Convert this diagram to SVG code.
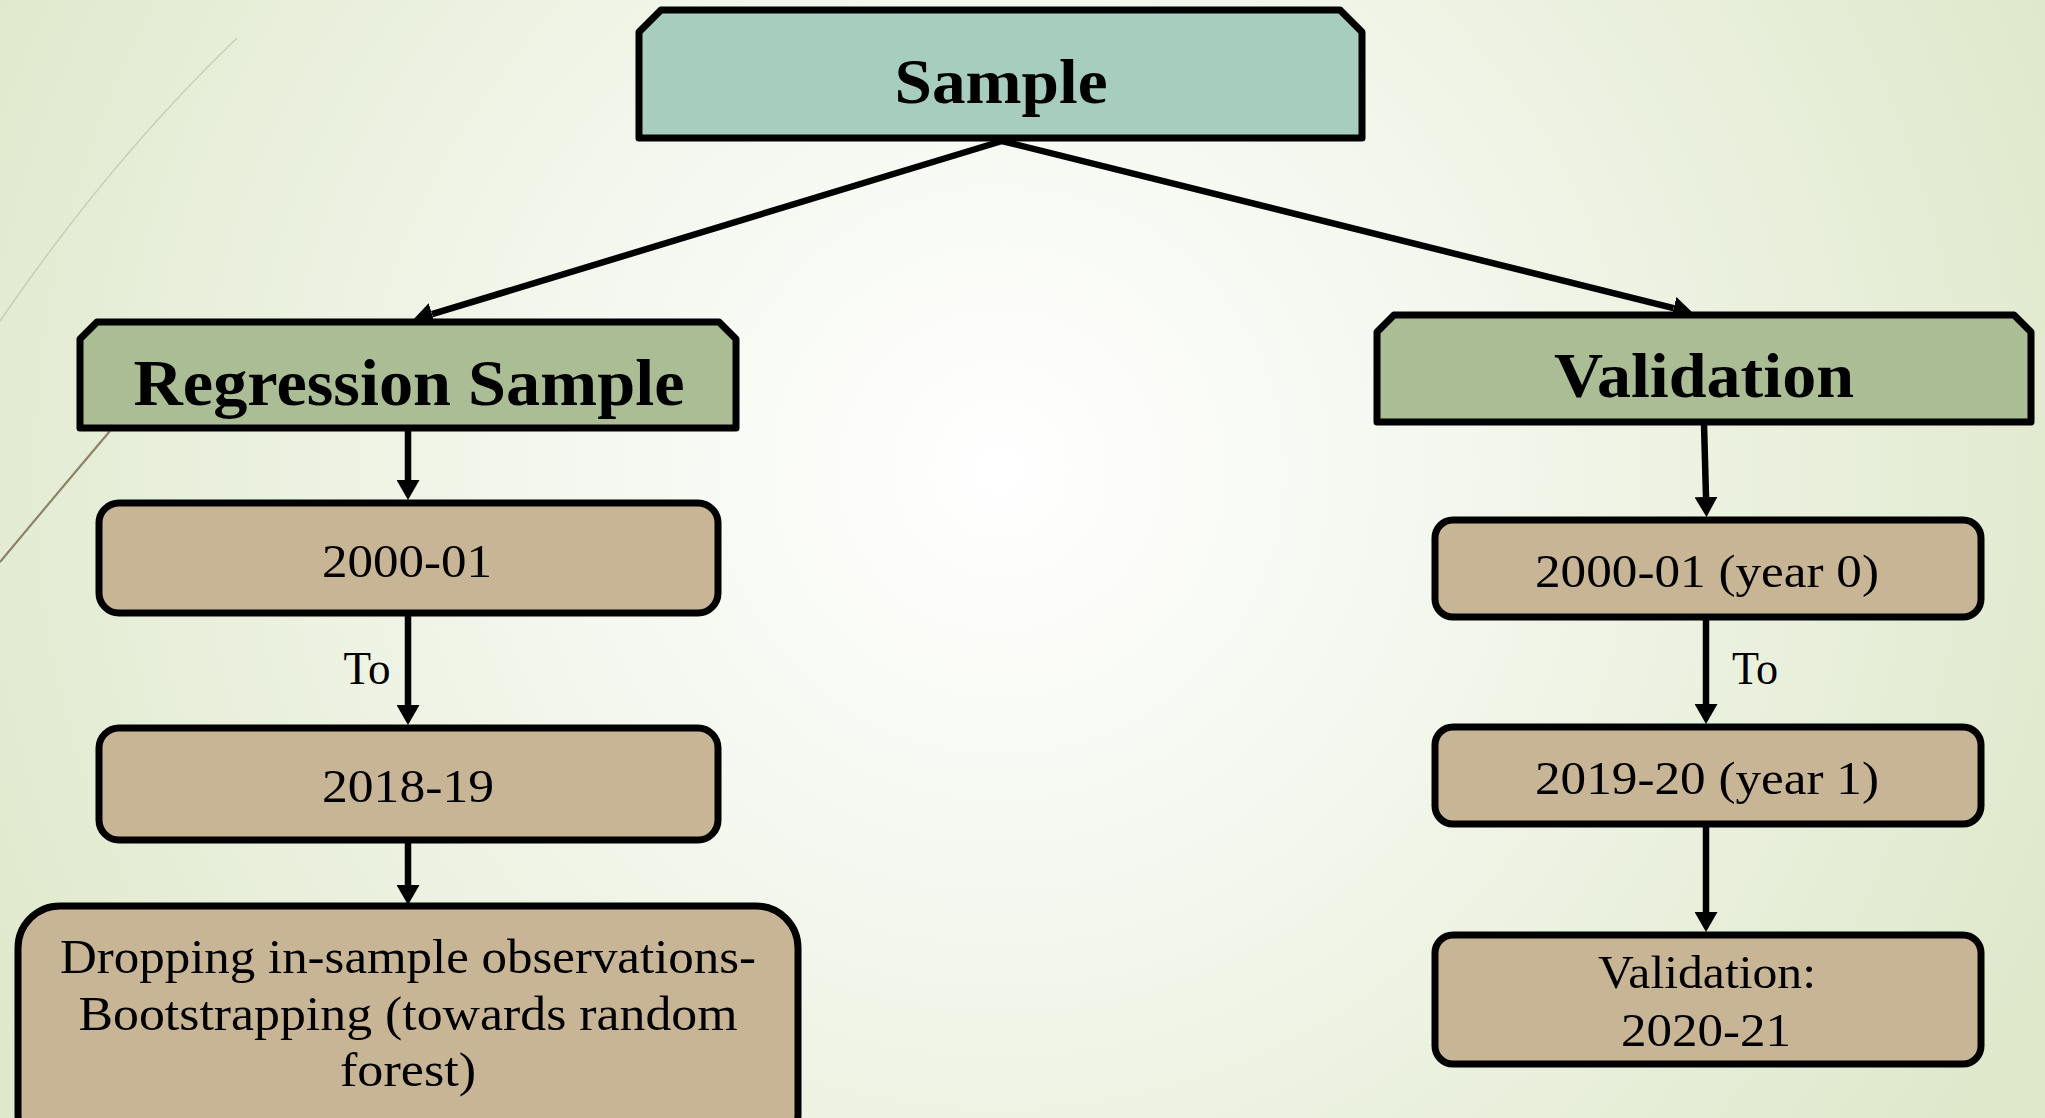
<svg xmlns="http://www.w3.org/2000/svg" width="2045" height="1118" viewBox="0 0 2045 1118">
<defs>
<radialGradient id="bg" cx="1000" cy="470" r="1150" gradientUnits="userSpaceOnUse">
<stop offset="0" stop-color="#ffffff"/>
<stop offset="0.35" stop-color="#f5f8f0"/>
<stop offset="1" stop-color="#dfe8cb"/>
</radialGradient>
<marker id="ah" viewBox="0 0 20 23" markerWidth="20" markerHeight="23" refX="0" refY="11.5" orient="auto" markerUnits="userSpaceOnUse">
<path d="M0,0 L20,11.5 L0,23 Z" fill="#000"/>
</marker>
<style>
.hdr{stroke:#000;stroke-width:7;stroke-linejoin:round}
.box{fill:#c7b595;stroke:#000;stroke-width:7}
.conn{stroke:#000;stroke-width:6.5;fill:none;marker-end:url(#ah)}
.tb{font-family:"Liberation Serif",serif;font-weight:bold;text-anchor:middle;fill:#000}
.t{font-family:"Liberation Serif",serif;text-anchor:middle;fill:#000}
</style>
</defs>
<rect x="0" y="0" width="2045" height="1118" fill="url(#bg)"/>
<path d="M237,38 Q110,160 0,321" fill="none" stroke="#c9d0b6" stroke-width="1.6"/>
<path d="M110,431 Q60,490 0,562" fill="none" stroke="#8b8468" stroke-width="2.2"/>

<g id="connectors">
<line class="conn" x1="1002" y1="141" x2="432" y2="314.2"/>
<line class="conn" x1="1002" y1="141" x2="1673.6" y2="308.2"/>
<line class="conn" x1="408" y1="431" x2="408" y2="480"/>
<line class="conn" x1="408" y1="616" x2="408" y2="705"/>
<line class="conn" x1="408" y1="843" x2="408" y2="885"/>
<line class="conn" x1="1704" y1="424" x2="1706" y2="497"/>
<line class="conn" x1="1706" y1="620" x2="1706" y2="704"/>
<line class="conn" x1="1706" y1="827" x2="1706" y2="912"/>
<text class="t" x="367" y="684" font-size="47" textLength="47" lengthAdjust="spacingAndGlyphs">To</text>
<text class="t" x="1755" y="684" font-size="47" textLength="46" lengthAdjust="spacingAndGlyphs">To</text>
</g>

<g id="sample">
<path class="hdr" fill="#a7cdbf" d="M639,138 L639,32 L661,10 L1340,10 L1362,32 L1362,138 Z"/>
<text class="tb" x="1001" y="103" font-size="63" textLength="213" lengthAdjust="spacingAndGlyphs">Sample</text>
</g>

<g id="regression-sample">
<path class="hdr" fill="#abbd94" d="M80,428 L80,339 L97,322 L719,322 L736,339 L736,428 Z"/>
<text class="tb" x="409" y="405" font-size="65" textLength="551" lengthAdjust="spacingAndGlyphs">Regression Sample</text>
</g>

<g id="validation">
<path class="hdr" fill="#abbd94" d="M1377,422 L1377,332 L1394,315 L2014,315 L2031,332 L2031,422 Z"/>
<text class="tb" x="1704" y="397" font-size="63" textLength="300" lengthAdjust="spacingAndGlyphs">Validation</text>
</g>

<g id="reg-2000-01">
<rect class="box" x="99" y="503" width="619" height="110" rx="20"/>
<text class="t" x="407" y="577" font-size="47" textLength="170" lengthAdjust="spacingAndGlyphs">2000-01</text>
</g>

<g id="reg-2018-19">
<rect class="box" x="99" y="728" width="619" height="112" rx="20"/>
<text class="t" x="408" y="802" font-size="47" textLength="172" lengthAdjust="spacingAndGlyphs">2018-19</text>
</g>

<g id="dropping">
<rect class="box" x="18" y="906" width="780" height="250" rx="42"/>
<text class="t" x="408" y="973" font-size="48" textLength="696" lengthAdjust="spacingAndGlyphs">Dropping in-sample observations-</text>
<text class="t" x="408" y="1030" font-size="48" textLength="659" lengthAdjust="spacingAndGlyphs">Bootstrapping (towards random</text>
<text class="t" x="408" y="1086" font-size="48" textLength="136" lengthAdjust="spacingAndGlyphs">forest)</text>
</g>

<g id="val-2000-01">
<rect class="box" x="1435" y="520" width="546" height="97" rx="18"/>
<text class="t" x="1707" y="587" font-size="47" textLength="344" lengthAdjust="spacingAndGlyphs">2000-01 (year 0)</text>
</g>

<g id="val-2019-20">
<rect class="box" x="1435" y="727" width="546" height="97" rx="18"/>
<text class="t" x="1707" y="794" font-size="47" textLength="344" lengthAdjust="spacingAndGlyphs">2019-20 (year 1)</text>
</g>

<g id="val-2020-21">
<rect class="box" x="1435" y="935" width="546" height="129" rx="18"/>
<text class="t" x="1707" y="988" font-size="47" textLength="218" lengthAdjust="spacingAndGlyphs">Validation:</text>
<text class="t" x="1706" y="1046" font-size="47" textLength="170" lengthAdjust="spacingAndGlyphs">2020-21</text>
</g>
</svg>
